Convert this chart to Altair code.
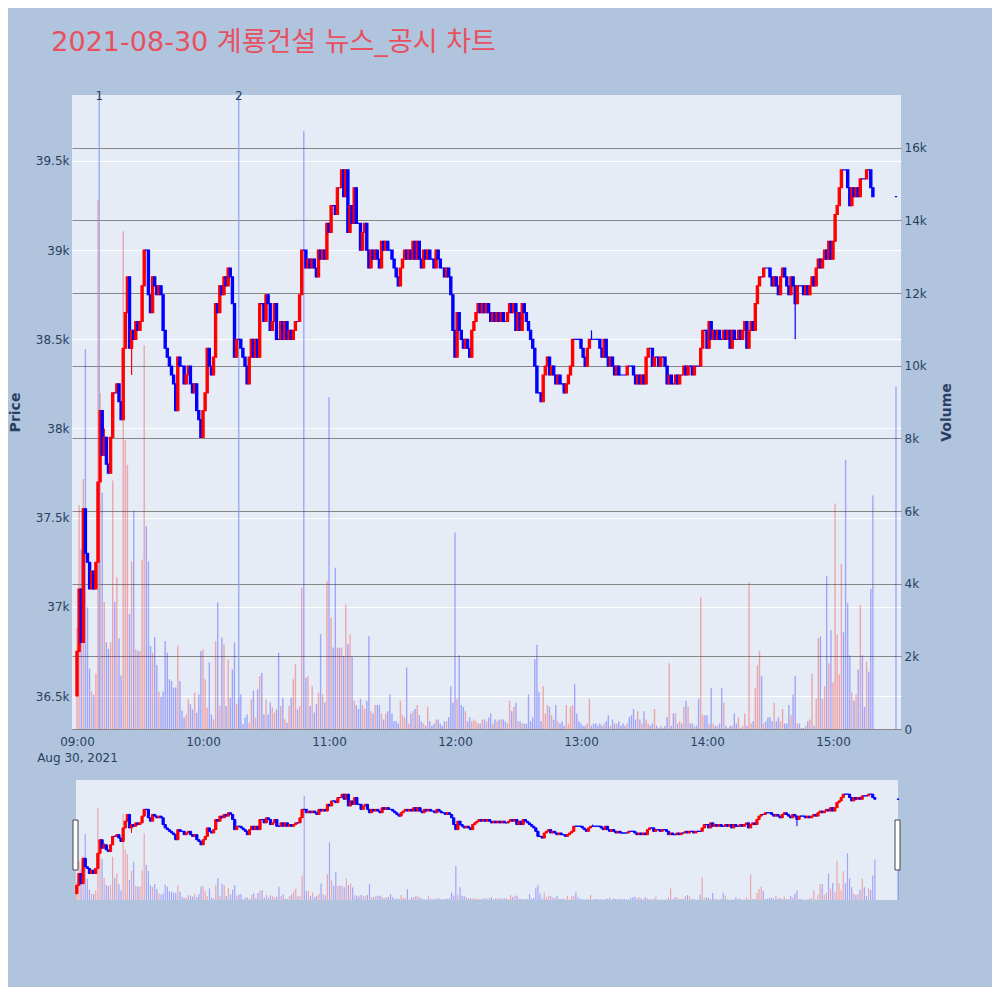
import altair as alt
import pandas as pd

TITLE = "2021-08-30 계룡건설 뉴스_공시 차트"
DATE_LABEL = "Aug 30, 2021"
FIRST_OPEN = 36500

closes = [
    36750, 37100, 36800, 37550, 37300, 37250, 37100, 37200, 37100, 37250,
    37700, 38100, 37850, 37950, 37800, 37750, 37950, 38200, 38200, 38250,
    38150, 38050, 38450, 38650, 38850, 38450, 38550, 38500, 38600, 38550,
    38600, 38800, 39000, 39000, 38750, 38650, 38850, 38800, 38750, 38800,
    38750, 38550, 38450, 38400, 38350, 38300, 38250, 38100, 38400, 38350,
    38350, 38250, 38300, 38350, 38250, 38200, 38250, 38100, 38050, 37950,
    38100, 38200, 38450, 38350, 38300, 38400, 38700, 38650, 38800, 38750,
    38850, 38800, 38900, 38850, 38700, 38400, 38500, 38500, 38450, 38400,
    38350, 38250, 38400, 38500, 38400, 38500, 38400, 38700, 38700, 38600,
    38750, 38700, 38550, 38600, 38700, 38500, 38500, 38600, 38500, 38600,
    38500, 38550, 38500, 38550, 38600, 38600, 38750, 39000, 39000, 38900,
    38950, 38900, 38950, 38900, 38850, 39000, 38950, 39000, 38950, 39150,
    39100, 39250, 39250, 39200, 39350, 39350, 39450, 39300, 39450, 39100,
    39250, 39150, 39350, 39150, 39150, 39000, 39100, 39150, 39000, 38900,
    39000, 38950, 39000, 38950, 38900, 39050, 39000, 39050, 39000, 39000,
    38950, 38900, 38850, 38800, 38900, 38950, 39000, 38950, 39000, 38950,
    39050, 38950, 39050, 38950, 38900, 39000, 38950, 39000, 38950, 38950,
    38900, 39000, 38950, 38900, 38900, 38850, 38900, 38850, 38750, 38550,
    38400, 38650, 38550, 38500, 38450, 38500, 38450, 38400, 38550, 38600,
    38650, 38700, 38650, 38700, 38650, 38700, 38650, 38600, 38650, 38600,
    38650, 38600, 38650, 38600, 38600, 38650, 38700, 38650, 38700, 38550,
    38650, 38550, 38700, 38650, 38600, 38550, 38500, 38450, 38350, 38200,
    38200, 38150, 38300, 38350, 38400, 38300, 38350, 38300, 38250, 38300,
    38250, 38250, 38200, 38250, 38300, 38350, 38500, 38500, 38500, 38500,
    38450, 38400, 38350, 38450, 38500, 38500, 38500, 38500, 38500, 38450,
    38400, 38500, 38400, 38350, 38400, 38350, 38300, 38350, 38300, 38300,
    38300, 38300, 38350, 38350, 38350, 38300, 38250, 38300, 38250, 38300,
    38250, 38400, 38450, 38450, 38350, 38400, 38400, 38350, 38400, 38400,
    38350, 38250, 38300, 38250, 38250, 38300, 38250, 38300, 38300, 38350,
    38300, 38350, 38350, 38300, 38350, 38350, 38350, 38450, 38550, 38550,
    38450, 38600, 38500, 38550, 38500, 38550, 38500, 38500, 38550, 38500,
    38550, 38450, 38550, 38500, 38500, 38550, 38500, 38550, 38600, 38450,
    38550, 38600, 38550, 38700, 38800, 38850, 38850, 38900, 38900, 38900,
    38850, 38800, 38850, 38800, 38750, 38850, 38900, 38850, 38800, 38750,
    38850, 38800, 38700, 38800, 38800, 38800, 38750, 38800, 38750, 38800,
    38850, 38800, 38900, 38950, 38900, 38950, 39000, 38950, 39050, 38950,
    39050, 39200, 39250, 39350, 39450, 39450, 39450, 39350, 39250, 39350,
    39300, 39350, 39300, 39400, 39400, 39400, 39450, 39450, 39350, 39300,
]

volumes = [
    2780, 6160, 4950, 6880, 10460, 3350, 1660, 1030, 940, 1520,
    14570, 9250, 6500, 3500, 2390, 2200, 2390, 6840, 3500, 4180,
    2490, 1470, 13700, 7950, 7270, 3160, 4610, 6010, 2200, 2150,
    2150, 4660, 10560, 5580, 4610, 2290, 2100, 2530, 1760, 1030,
    890, 1030, 2420, 2100, 1370, 1320, 1140, 1140, 2290, 1320,
    500, 310, 400, 820, 680, 540, 1000, 450, 950, 2150,
    2190, 1370, 590, 1830, 400, 270, 2420, 3480, 630, 2520,
    2330, 630, 1920, 860, 1640, 2380, 680, 860, 950, 130,
    310, 400, 170, 820, 1050, 310, 1090, 1460, 1550, 400,
    820, 400, 730, 590, 450, 540, 2100, 630, 860, 270,
    170, 630, 860, 1370, 1780, 540, 630, 3890, 16450, 1410,
    1460, 630, 1180, 450, 680, 1000, 2610, 950, 730, 4080,
    9130, 3070, 2240, 4440, 2240, 2240, 2240, 2000, 3430, 2330,
    2600, 1980, 780, 660, 550, 830, 660, 550, 780, 2550,
    490, 430, 660, 660, 660, 430, 260, 430, 490, 950,
    430, 210, 210, 150, 780, 380, 320, 1690, 150, 430,
    490, 550, 660, 380, 210, 150, 90, 610, 210, 90,
    150, 260, 260, 150, 90, 210, 210, 320, 1180, 720,
    5410, 830, 2030, 660, 610, 490, 210, 320, 210, 260,
    210, 150, 150, 260, 260, 210, 320, 430, 150, 260,
    210, 260, 260, 260, 210, 150, 780, 490, 610, 720,
    210, 210, 150, 150, 150, 950, 210, 320, 1920, 2320,
    1010, 210, 1180, 430, 660, 610, 380, 260, 660, 210,
    150, 210, 90, 660, 150, 610, 660, 1230, 430, 210,
    150, 90, 90, 150, 830, 90, 150, 150, 90, 150,
    90, 150, 210, 380, 90, 260, 150, 150, 210, 90,
    150, 90, 150, 320, 380, 550, 260, 490, 260, 150,
    490, 260, 150, 90, 150, 550, 90, 30, 90, 30,
    90, 320, 1810, 90, 430, 430, 150, 210, 150, 610,
    780, 610, 150, 150, 90, 90, 830, 3630, 380, 380,
    380, 150, 1120, 150, 90, 90, 150, 1120, 720, 90,
    30, 90, 90, 430, 150, 320, 30, 90, 430, 90,
    4030, 150, 210, 1120, 1750, 2150, 1460, 150, 210, 320,
    320, 210, 720, 210, 320, 210, 550, 150, 150, 660,
    380, 950, 1460, 150, 150, 30, 30, 90, 210, 260,
    1520, 90, 830, 2500, 2550, 830, 1180, 4210, 1810, 2720,
    1290, 6210, 2600, 1500, 4550, 2660, 7410, 3460, 2030, 1010,
    780, 950, 1630, 3410, 2030, 610, 1860, 1580, 3860, 6430,
]

auction_time = "2021-08-30T15:30:00"
auction_price = 39300
auction_volume = 9430

wick_high = {13: 38000, 245: 38550}
wick_low = {26: 38300, 342: 38500}

event_times = ["2021-08-30T09:10:36", "2021-08-30T10:17:00"]
event_labels = ["1", "2"]

price_ticks = [36500, 37000, 37500, 38000, 38500, 39000, 39500]
volume_ticks = [0, 2000, 4000, 6000, 8000, 10000, 12000, 14000, 16000]
hour_ticks = [9, 10, 11, 12, 13, 14, 15]

# ---------------------------------------------------------------- table
times = pd.date_range("2021-08-30 09:00:00", periods=len(closes), freq="min")
records = []
prev = FIRST_OPEN
for i, (t, c, v) in enumerate(zip(times, closes, volumes)):
    o = prev
    records.append({
        "t": t.strftime("%Y-%m-%dT%H:%M:%S"),
        "open": o, "close": c,
        "high": max(o, c, wick_high.get(i, c)),
        "low": min(o, c, wick_low.get(i, c)),
        "volume": v,
        "dir": "up" if c > o else "down",
    })
    prev = c
records.append({"t": auction_time, "open": auction_price, "close": auction_price,
                "high": auction_price, "low": auction_price,
                "volume": auction_volume, "dir": "down"})
df = pd.DataFrame(records)
ev = pd.DataFrame({"t": event_times, "label": event_labels})
one = pd.DataFrame({"a": [0]})

# ---------------------------------------------------------------- style
FONT = "DejaVu Sans, Noto Sans CJK KR"
FONT_COLOR = "#2a3f5f"
TITLE_COLOR = "#E8505F"
PAGE_BG = "#B0C4DE"
PLOT_BG = "#E5ECF6"
dir_scale = alt.Scale(domain=["up", "down"], range=["#FF0000", "#0000FF"])


def dt(h, m=0, s=0):
    return alt.DateTime(year=2021, month=8, date=30, hours=h, minutes=m, seconds=s)


x_main = alt.Scale(domain=[dt(8, 57, 37), dt(15, 32, 23)], nice=False, padding=0)
x_slider = alt.Scale(domain=[dt(8, 57, 43), dt(15, 31, 25)], nice=False, padding=0)
price_scale = alt.Scale(domain=[36315, 39870], nice=False, zero=False)

hm = "timeFormat(datum.value, '%H:%M')"
x_axis = alt.Axis(
    values=[dt(h) for h in hour_ticks], format="%H:%M",
    labelExpr=f"hours(datum.value) == {hour_ticks[0]} ? [{hm}, '{DATE_LABEL}'] : {hm}",
    grid=False, ticks=False, domain=False, labelColor=FONT_COLOR, labelFontSize=12,
    labelFont=FONT, labelPadding=7, title=None, labelOverlap=False, labelFlush=False,
    labelLineHeight=16,
)
price_axis = alt.Axis(
    values=price_ticks, format="~s", title="Price", grid=True, gridColor="white",
    gridWidth=1, ticks=False, domain=False, labelColor=FONT_COLOR, labelFontSize=12,
    labelFont=FONT, labelPadding=3, titleFont=FONT, titleFontSize=14,
    titleFontWeight="bold", titleColor=FONT_COLOR, titlePadding=13,
)
volume_axis = alt.Axis(
    orient="right", values=volume_ticks, title="Volume", grid=True,
    labelExpr="datum.value == 0 ? '0' : format(datum.value, '~s')",
    gridColor="#878787", gridWidth=1, ticks=False, domain=False,
    labelColor=FONT_COLOR, labelFontSize=12, labelFont=FONT, labelPadding=3,
    titleFont=FONT, titleFontSize=14, titleFontWeight="bold", titleColor=FONT_COLOR,
    titlePadding=27, titleAngle=270,
)

# ---------------------------------------------------------------- main
vol = alt.Chart(df).mark_bar(size=1.4, opacity=0.3).encode(
    x=alt.X("t:T", scale=x_main, axis=x_axis),
    y=alt.Y("volume:Q", scale=alt.Scale(domain=[0, 17450], nice=False), axis=volume_axis),
    color=alt.Color("dir:N", scale=dir_scale, legend=None),
)
ev_rule = alt.Chart(ev).mark_rule(color="#8FA3F0", strokeWidth=1.5, opacity=0.8).encode(
    x=alt.X("t:T"),
)
ev_text = alt.Chart(ev).mark_text(fontSize=12, font=FONT, color=FONT_COLOR,
                                  baseline="middle", dy=1).encode(
    x=alt.X("t:T"), y=alt.value(0), text="label:N",
)
wick = alt.Chart(df).mark_rule(strokeWidth=1.2).encode(
    x=alt.X("t:T"),
    y=alt.Y("low:Q", scale=price_scale, axis=price_axis), y2="high:Q",
    color=alt.Color("dir:N", scale=dir_scale, legend=None),
)
body = alt.Chart(df).mark_bar(size=2.2, strokeWidth=1.2).encode(
    x=alt.X("t:T"),
    y=alt.Y("open:Q", scale=price_scale, axis=price_axis), y2="close:Q",
    color=alt.Color("dir:N", scale=dir_scale, legend=None),
    stroke=alt.Stroke("dir:N", scale=dir_scale, legend=None),
)
candles = alt.layer(wick, body)
main = alt.layer(vol, ev_rule, candles, ev_text).resolve_scale(y="independent").properties(
    width=829, height=634,
    view=alt.ViewBackground(fill=PLOT_BG, stroke="transparent"),
)

# ---------------------------------------------------------------- range slider
s_bg = alt.Chart(one).mark_rect(color=PLOT_BG).encode(
    x=alt.value(4), x2=alt.value(826), y=alt.value(0), y2=alt.value(120))
s_vol = alt.Chart(df).mark_bar(size=1.2, opacity=0.3).encode(
    x=alt.X("t:T", scale=x_slider, axis=None),
    y=alt.Y("volume:Q", scale=alt.Scale(domain=[0, 19000], nice=False), axis=None),
    color=alt.Color("dir:N", scale=dir_scale, legend=None),
)
s_wick = alt.Chart(df).mark_rule(strokeWidth=1).encode(
    x=alt.X("t:T", scale=x_slider, axis=None),
    y=alt.Y("low:Q", scale=price_scale, axis=None), y2="high:Q",
    color=alt.Color("dir:N", scale=dir_scale, legend=None),
)
s_body = alt.Chart(df).mark_bar(size=2.2, strokeWidth=1).encode(
    x=alt.X("t:T", scale=x_slider, axis=None),
    y=alt.Y("open:Q", scale=price_scale, axis=None), y2="close:Q",
    color=alt.Color("dir:N", scale=dir_scale, legend=None),
    stroke=alt.Stroke("dir:N", scale=dir_scale, legend=None),
)
s_candles = alt.layer(s_wick, s_body)
h_left = alt.Chart(one).mark_rect(fill="white", stroke="#444444", strokeWidth=1).encode(
    x=alt.value(1), x2=alt.value(6), y=alt.value(40), y2=alt.value(90))
h_right = alt.Chart(one).mark_rect(fill="white", stroke="#444444", strokeWidth=1).encode(
    x=alt.value(823), x2=alt.value(828), y=alt.value(40), y2=alt.value(90))
slider = alt.layer(s_bg, s_vol, s_candles, h_left, h_right).resolve_scale(y="independent").properties(
    width=829, height=120,
    view=alt.ViewBackground(fill="transparent", stroke="transparent"),
)

chart = alt.vconcat(main, slider, spacing=17).properties(
    title=alt.TitleParams(TITLE, anchor="start", fontSize=27, font=FONT, color=TITLE_COLOR,
                          fontWeight="normal", dx=43, offset=33),
    padding={"left": 0, "top": 21, "right": 38, "bottom": 87},
).configure(background=PAGE_BG).configure_view(strokeWidth=0)

chart.save("out.html", embed_options={"renderer": "svg", "actions": False})
